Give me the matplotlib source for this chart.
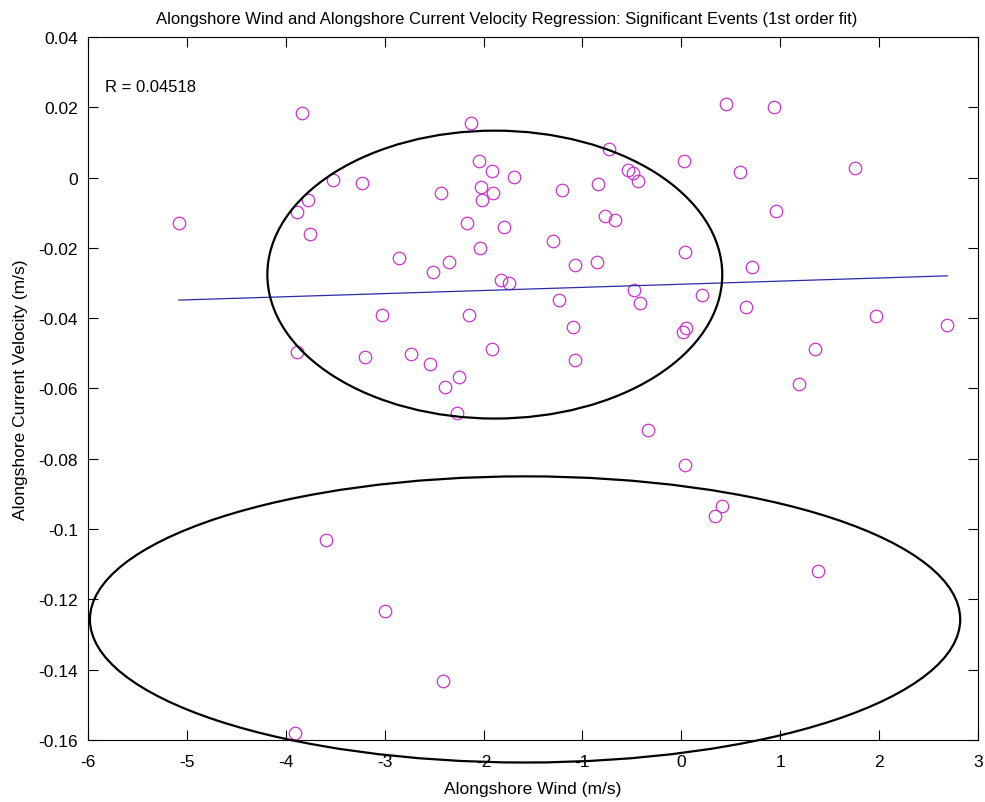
import numpy as np
import matplotlib.pyplot as plt
from matplotlib.patches import Ellipse

plt.rcParams["font.family"] = ["Liberation Sans", "DejaVu Sans"]
plt.rcParams["axes.unicode_minus"] = False

# alongshore wind (m/s) and alongshore current velocity (m/s)
wind = [
    -5.08, -3.84, -3.89, -3.78, -3.75, -3.52, -3.23, -2.13, -2.05, -2.03,
    -2.02, -1.91, -1.90, -1.69, -2.43, -2.17, -2.04, -1.79, -1.21, -1.30,
    -0.73, -0.84, -0.54, -0.49, -0.44, -0.77, -0.67, 0.03, -2.85, -2.51,
    -2.35, -1.82, -1.74, -1.08, -0.85, 0.04, 0.71, -1.24, -0.48, -0.42,
    0.21, 0.05, 0.02, 0.65, -3.03, -2.15, -3.89, -3.20, -2.73, -2.54,
    -1.91, -1.10, -1.08, -2.39, -2.25, -2.27, -0.34, 0.04, 0.34, 0.41,
    0.45, 0.94, 0.59, 1.76, 0.96, 1.97, 2.69, 1.35, 1.19, 1.38,
    -3.59, -3.00, -2.41, -3.91,
]
current = [
    -0.0128, 0.0185, -0.0097, -0.0065, -0.0160, -0.0006, -0.0014, 0.0154, 0.0048, -0.0028,
    -0.0063, 0.0020, -0.0043, 0.0003, -0.0045, -0.0130, -0.0200, -0.0140, -0.0035, -0.0180,
    0.0080, -0.0017, 0.0023, 0.0014, -0.0009, -0.0110, -0.0120, 0.0048, -0.0228, -0.0270,
    -0.0240, -0.0290, -0.0300, -0.0248, -0.0240, -0.0212, -0.0253, -0.0347, -0.0320, -0.0356,
    -0.0333, -0.0428, -0.0438, -0.0367, -0.0390, -0.0390, -0.0495, -0.0510, -0.0503, -0.0530,
    -0.0487, -0.0424, -0.0520, -0.0597, -0.0566, -0.0669, -0.0717, -0.0817, -0.0964, -0.0933,
    0.0208, 0.0200, 0.0017, 0.0028, -0.0094, -0.0395, -0.0418, -0.0487, -0.0586, -0.1118,
    -0.1030, -0.1233, -0.1433, -0.1580,
]

# hand-drawn highlight ellipses: (centre x, centre y, width, height)
ellipses = [(-1.886, -0.0276, 4.60, 0.0819), (-1.58, -0.1257, 8.80, 0.0814)]
r_label = "R = 0.04518"

x = np.array(wind)
y = np.array(current)
coef = np.polyfit(x, y, 1)
xfit = np.linspace(x.min(), x.max(), 50)

fig = plt.figure(figsize=(9.85, 8.03), dpi=100)
ax = fig.add_axes([0.0893, 0.0772, 0.9036, 0.8755])

ax.plot(x, y, "o", mfc="none", mec="#cc33cc", ms=9, mew=0.9)
ax.plot(xfit, np.polyval(coef, xfit), color="#2b2ba8", lw=0.9)

for cx, cy, w, h in ellipses:
    ax.add_patch(Ellipse((cx, cy), w, h, fill=False, ec="black", lw=1.6,
                         clip_on=False, zorder=5))

ax.text(0.019, 0.930, r_label, transform=ax.transAxes, fontsize=12,
        va="center", ha="left")

ax.set_xlim(-6, 3)
ax.set_ylim(-0.16, 0.04)
ax.set_xticks(np.arange(-6, 4, 1))
ax.set_yticks(np.arange(-0.16, 0.041, 0.02))
ax.set_yticklabels(["-0.16", "-0.14", "-0.12", "-0.1", "-0.08", "-0.06",
                    "-0.04", "-0.02", "0", "0.02", "0.04"])
ax.tick_params(direction="in", top=True, right=True, length=7, width=0.8,
               labelsize=12.5)
ax.tick_params(axis="x", pad=10)
ax.tick_params(axis="y", pad=7)
for s in ax.spines.values():
    s.set_linewidth(0.8)

ax.set_xlabel("Alongshore Wind (m/s)", fontsize=12.5, labelpad=9)
ax.set_ylabel("Alongshore Current Velocity (m/s)", fontsize=12.5, labelpad=8)
ax.set_title("Alongshore Wind and Alongshore Current Velocity Regression: "
             "Significant Events (1st order fit)", fontsize=12, pad=10, x=0.471)

fig.savefig("out.png", dpi=100)
